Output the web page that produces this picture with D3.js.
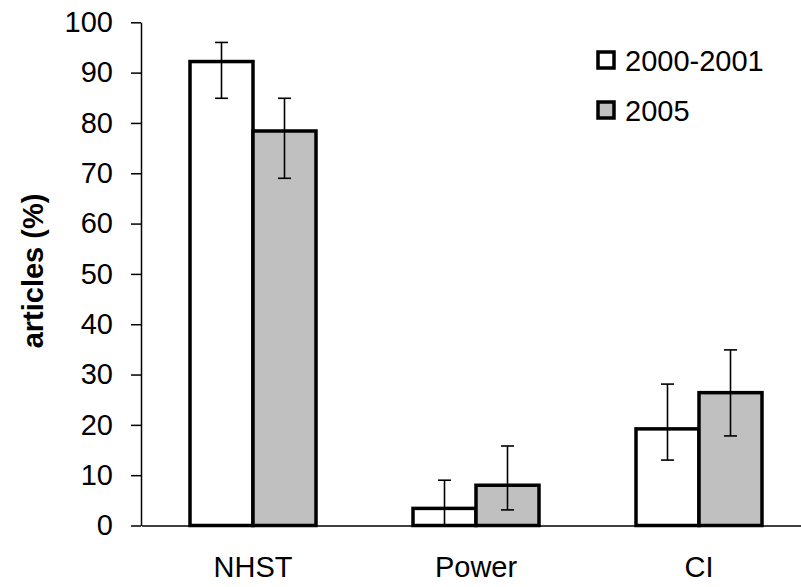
<!DOCTYPE html>
<html>
<head>
<meta charset="utf-8">
<script src="https://cdn.jsdelivr.net/npm/d3@7"></script>
<style>
  body { margin: 0; background: #fff; }
  text { font-family: "Liberation Sans", Arial, sans-serif; }
</style>
</head>
<body>
<svg id="chart" width="801" height="587"></svg>
<script>
// values
var categories = ["NHST", "Power", "CI"];
var seriesNames = ["2000-2001", "2005"];
var vals2000 = [92.2, 3.4, 19.2];
var lo2000 = [84.9, 0, 13.0];
var hi2000 = [96.0, 9.0, 28.1];
var vals2005 = [78.4, 8.0, 26.4];
var lo2005 = [69.0, 3.1, 17.8];
var hi2005 = [84.9, 15.8, 34.9];
var yTicks = [0, 10, 20, 30, 40, 50, 60, 70, 80, 90, 100];
var fills = ["#ffffff", "#c0c0c0"];

var svg = d3.select("#chart");

var x = d3.scaleBand().domain(categories).range([141.5, 810.5]).paddingInner(0.435).paddingOuter(0.2175);
var y = d3.scaleLinear().domain([0, 100]).range([525.5, 22.3]);
var xs = d3.scaleBand().domain(seriesNames).range([0, x.bandwidth()]);

// build rows
var rows = [];
categories.forEach(function (c, i) {
  rows.push({ cat: c, s: seriesNames[0], v: vals2000[i], lo: lo2000[i], hi: hi2000[i], k: 0 });
  rows.push({ cat: c, s: seriesNames[1], v: vals2005[i], lo: lo2005[i], hi: hi2005[i], k: 1 });
});

// y axis
var yAxis = svg.append("g")
  .attr("transform", "translate(141,0)")
  .call(d3.axisLeft(y).tickValues(yTicks).tickSize(10).tickPadding(18).tickSizeOuter(0));
yAxis.select(".domain").attr("stroke", "#000").attr("stroke-width", 1.5);
yAxis.selectAll(".tick line").attr("stroke", "#000").attr("stroke-width", 1.5);
yAxis.selectAll(".tick text").attr("font-size", 29).attr("fill", "#000")
  .style("font-family", "'Liberation Sans', Arial, sans-serif");

// bars
svg.append("g")
  .selectAll("rect")
  .data(rows)
  .enter()
  .append("rect")
  .attr("x", function (d) { return x(d.cat) + xs(d.s); })
  .attr("y", function (d) { return y(d.v); })
  .attr("width", xs.bandwidth())
  .attr("height", function (d) { return y(0) - y(d.v); })
  .attr("fill", function (d) { return fills[d.k]; })
  .attr("stroke", "#000")
  .attr("stroke-width", 3.5);

// x axis
var xAxis = svg.append("g")
  .attr("transform", "translate(0," + y(0) + ")")
  .call(d3.axisBottom(x).tickSize(0).tickPadding(31).tickSizeOuter(0));
xAxis.select(".domain").attr("stroke", "#000").attr("stroke-width", 1.5);
xAxis.selectAll(".tick text").attr("font-size", 29).attr("fill", "#000")
  .style("font-family", "'Liberation Sans', Arial, sans-serif");

// error bars
var eb = svg.append("g").selectAll("g").data(rows).enter().append("g")
  .attr("transform", function (d) { return "translate(" + (x(d.cat) + xs(d.s) + xs.bandwidth() / 2) + ",0)"; })
  .attr("stroke", "#000")
  .attr("stroke-width", 1.6);
eb.append("line")
  .attr("x1", 0).attr("x2", 0)
  .attr("y1", function (d) { return y(d.lo); })
  .attr("y2", function (d) { return y(d.hi); });
eb.append("line")
  .attr("x1", -6.5).attr("x2", 6.5)
  .attr("y1", function (d) { return y(d.hi); })
  .attr("y2", function (d) { return y(d.hi); });
eb.filter(function (d) { return d.lo > 0; }).append("line")
  .attr("x1", -6.5).attr("x2", 6.5)
  .attr("y1", function (d) { return y(d.lo); })
  .attr("y2", function (d) { return y(d.lo); });

// y title
svg.append("text")
  .attr("transform", "translate(43,271) rotate(-90)")
  .attr("text-anchor", "middle")
  .attr("font-size", 29)
  .attr("font-weight", "bold")
  .text("articles (%)");

// legend
var leg = svg.append("g").selectAll("g").data(seriesNames).enter().append("g")
  .attr("transform", function (d, i) { return "translate(598," + (52 + i * 50) + ")"; });
leg.append("rect")
  .attr("width", 16).attr("height", 16)
  .attr("fill", function (d, i) { return fills[i]; })
  .attr("stroke", "#000").attr("stroke-width", 3.5);
leg.append("text")
  .attr("x", 27).attr("y", 19)
  .attr("font-size", 29)
  .text(function (d) { return d; });
</script>
</body>
</html>
